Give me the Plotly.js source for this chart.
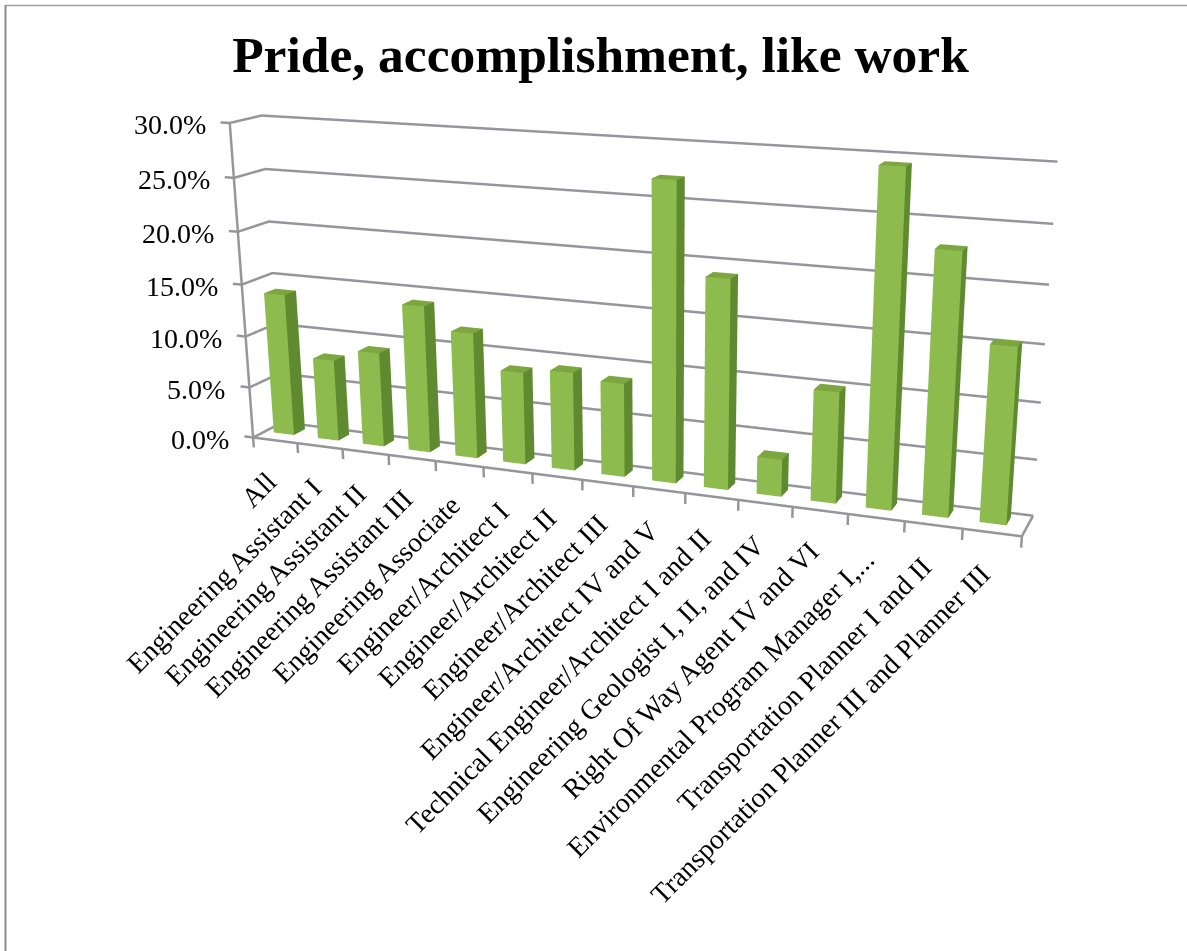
<!DOCTYPE html>
<html>
<head>
<meta charset="utf-8">
<script src="https://cdn.plot.ly/plotly-3.0.1.min.js"></script>
<style>
html, body { margin: 0; padding: 0; background: #fff; overflow: hidden; width: 1187px; height: 951px; }
#chart { position: absolute; left: 0; top: -300px; width: 1320px; height: 1500px; }
</style>
</head>
<body>
<div id="chart"></div>
<script>
const categories = [
  "All", "Engineering Assistant I", "Engineering Assistant II", "Engineering Assistant III",
  "Engineering Associate", "Engineer/Architect I", "Engineer/Architect II", "Engineer/Architect III",
  "Engineer/Architect IV and V", "Technical Engineer/Architect I and II",
  "Engineering Geologist I, II, and IV", "Right Of Way Agent IV and VI",
  "Environmental Program Manager I,...", "Transportation Planner I and II",
  "Transportation Planner III and Planner III"
];
const values = [0.138, 0.079, 0.091, 0.14, 0.119, 0.087, 0.092, 0.087, 0.271, 0.19, 0.034, 0.1, 0.294, 0.229, 0.154];
const valueTicks = [0, 0.05, 0.10, 0.15, 0.20, 0.25, 0.30];
const categoryEdges = [0, 1, 2, 3, 4, 5, 6, 7, 8, 9, 10, 11, 12, 13, 14, 15];

const W = 1320, H = 1500, TOP = 300;
const serif = '"Liberation Serif", serif';
const barCentre = 0.43, barHalfWidth = 0.23, barDepthMin = 0.4, barDepthMax = 0.78;
const faceFront = '#8dbb4d', faceSide = '#5f8a2f', faceTop = '#7ea640';
const ruleColor = '#95969c';
const xStub = -0.2, zStub = -0.01;

// Boxes for the columns: front, right and top faces of each one.
const mx = [], my = [], mz = [], mi = [], mj = [], mk = [], mc = [];
values.forEach((v, n) => {
  const b = mx.length, c = n + barCentre;
  const x0 = c - barHalfWidth, x1 = c + barHalfWidth;
  [[x0, barDepthMin], [x1, barDepthMin], [x1, barDepthMax], [x0, barDepthMax]].forEach(([a, d]) => {
    mx.push(a); my.push(d); mz.push(0);
  });
  [[x0, barDepthMin], [x1, barDepthMin], [x1, barDepthMax], [x0, barDepthMax]].forEach(([a, d]) => {
    mx.push(a); my.push(d); mz.push(v);
  });
  [[0, 1, 5, faceFront], [0, 5, 4, faceFront],
   [1, 2, 6, faceSide], [1, 6, 5, faceSide],
   [4, 5, 6, faceTop], [4, 6, 7, faceTop]].forEach(([p, q, r, col]) => {
    mi.push(b + p); mj.push(b + q); mk.push(b + r); mc.push(col);
  });
});

const columns = {
  type: 'mesh3d', x: mx, y: my, z: mz, i: mi, j: mj, k: mk, facecolor: mc,
  flatshading: true, showscale: false, hoverinfo: 'skip',
  lighting: { ambient: 1, diffuse: 0, specular: 0, roughness: 1, fresnel: 0 }
};

// Walls, floor, value axis and tick stubs as broken polylines.
const lx = [], ly = [], lz = [];
const addPath = pts => {
  pts.forEach(([a, b, c]) => { lx.push(a); ly.push(b); lz.push(c); });
  lx.push(null); ly.push(null); lz.push(null);
};
valueTicks.forEach(v => addPath([[xStub, 0, v], [0, 0, v], [0, 1, v], [15, 1, v]]));
addPath([[0, 0, 0], [0, 0, 0.3]]);
addPath([[0, 0, 0], [15, 0, 0], [15, 1, 0]]);
categoryEdges.forEach(e => addPath([[e, 0, 0], [e, 0, zStub]]));

const rules = {
  type: 'scatter3d', mode: 'lines', hoverinfo: 'skip', showlegend: false,
  x: lx, y: ly, z: lz, connectgaps: false,
  line: { color: ruleColor, width: 5 }
};

const annotations = [];
categories.forEach((t, n) => annotations.push({
  x: n + 0.5, y: 0, z: 0, text: t, showarrow: false, textangle: -45,
  xanchor: 'right', yanchor: 'top', yshift: -23, xshift: 10.5 - 0.3 * n,
  font: { family: serif, size: 28, color: '#000' }
}));
valueTicks.forEach(v => annotations.push({
  x: 0, y: 0, z: v, text: (v * 100).toFixed(1) + '%', showarrow: false,
  xanchor: 'right', yanchor: 'middle', xshift: -22, yshift: -2,
  font: { family: serif, size: 28, color: '#000' }
}));

const blankAxis = {
  title: { text: '' }, showbackground: false, showspikes: false, zeroline: false,
  showticklabels: false, showgrid: false, showline: false, ticks: ''
};

const layout = {
  width: W, height: H, showlegend: false,
  margin: { l: 0, r: 0, t: 0, b: 0 },
  paper_bgcolor: '#fff',
  title: {
    text: '<b>Pride, accomplishment, like work</b>',
    x: 600.5 / W, xanchor: 'center', y: 1 - (54 + TOP) / H, yanchor: 'middle', yref: 'paper',
    font: { family: serif, size: 51.5, color: '#000' }
  },
  scene: {
    domain: { x: [0, 1], y: [0, 1] },
    aspectmode: 'manual',
    aspectratio: { x: 2.0333, y: 0.1445, z: 0.8472 },
    camera: {
      eye: { x: 1.6086, y: -3.8834, z: 1.0546 },
      center: { x: 0.2436, y: -0.3274, z: -0.2056 },
      up: { x: 0, y: 0, z: 1 },
      projection: { type: 'perspective' }
    },
    xaxis: Object.assign({}, blankAxis, { range: [xStub, 15.05], tickvals: categoryEdges }),
    yaxis: Object.assign({}, blankAxis, { range: [0, 1.02], tickvals: [] }),
    zaxis: Object.assign({}, blankAxis, { range: [zStub, 0.302], tickvals: valueTicks }),
    annotations: annotations
  },
  shapes: [
    { type: 'line', xref: 'paper', yref: 'paper', x0: 5.5 / W, x1: 5.5 / W, y0: 1 - (5 + TOP) / H, y1: 1 - (951 + TOP) / H, line: { color: '#8c8c8c', width: 2 } },
    { type: 'line', xref: 'paper', yref: 'paper', x0: 5.5 / W, x1: 1187 / W, y0: 1 - (5.5 + TOP) / H, y1: 1 - (5.5 + TOP) / H, line: { color: '#a0a0a0', width: 1.5 } }
  ]
};

Plotly.newPlot('chart', [columns, rules], layout, { displayModeBar: false });
</script>
</body>
</html>
